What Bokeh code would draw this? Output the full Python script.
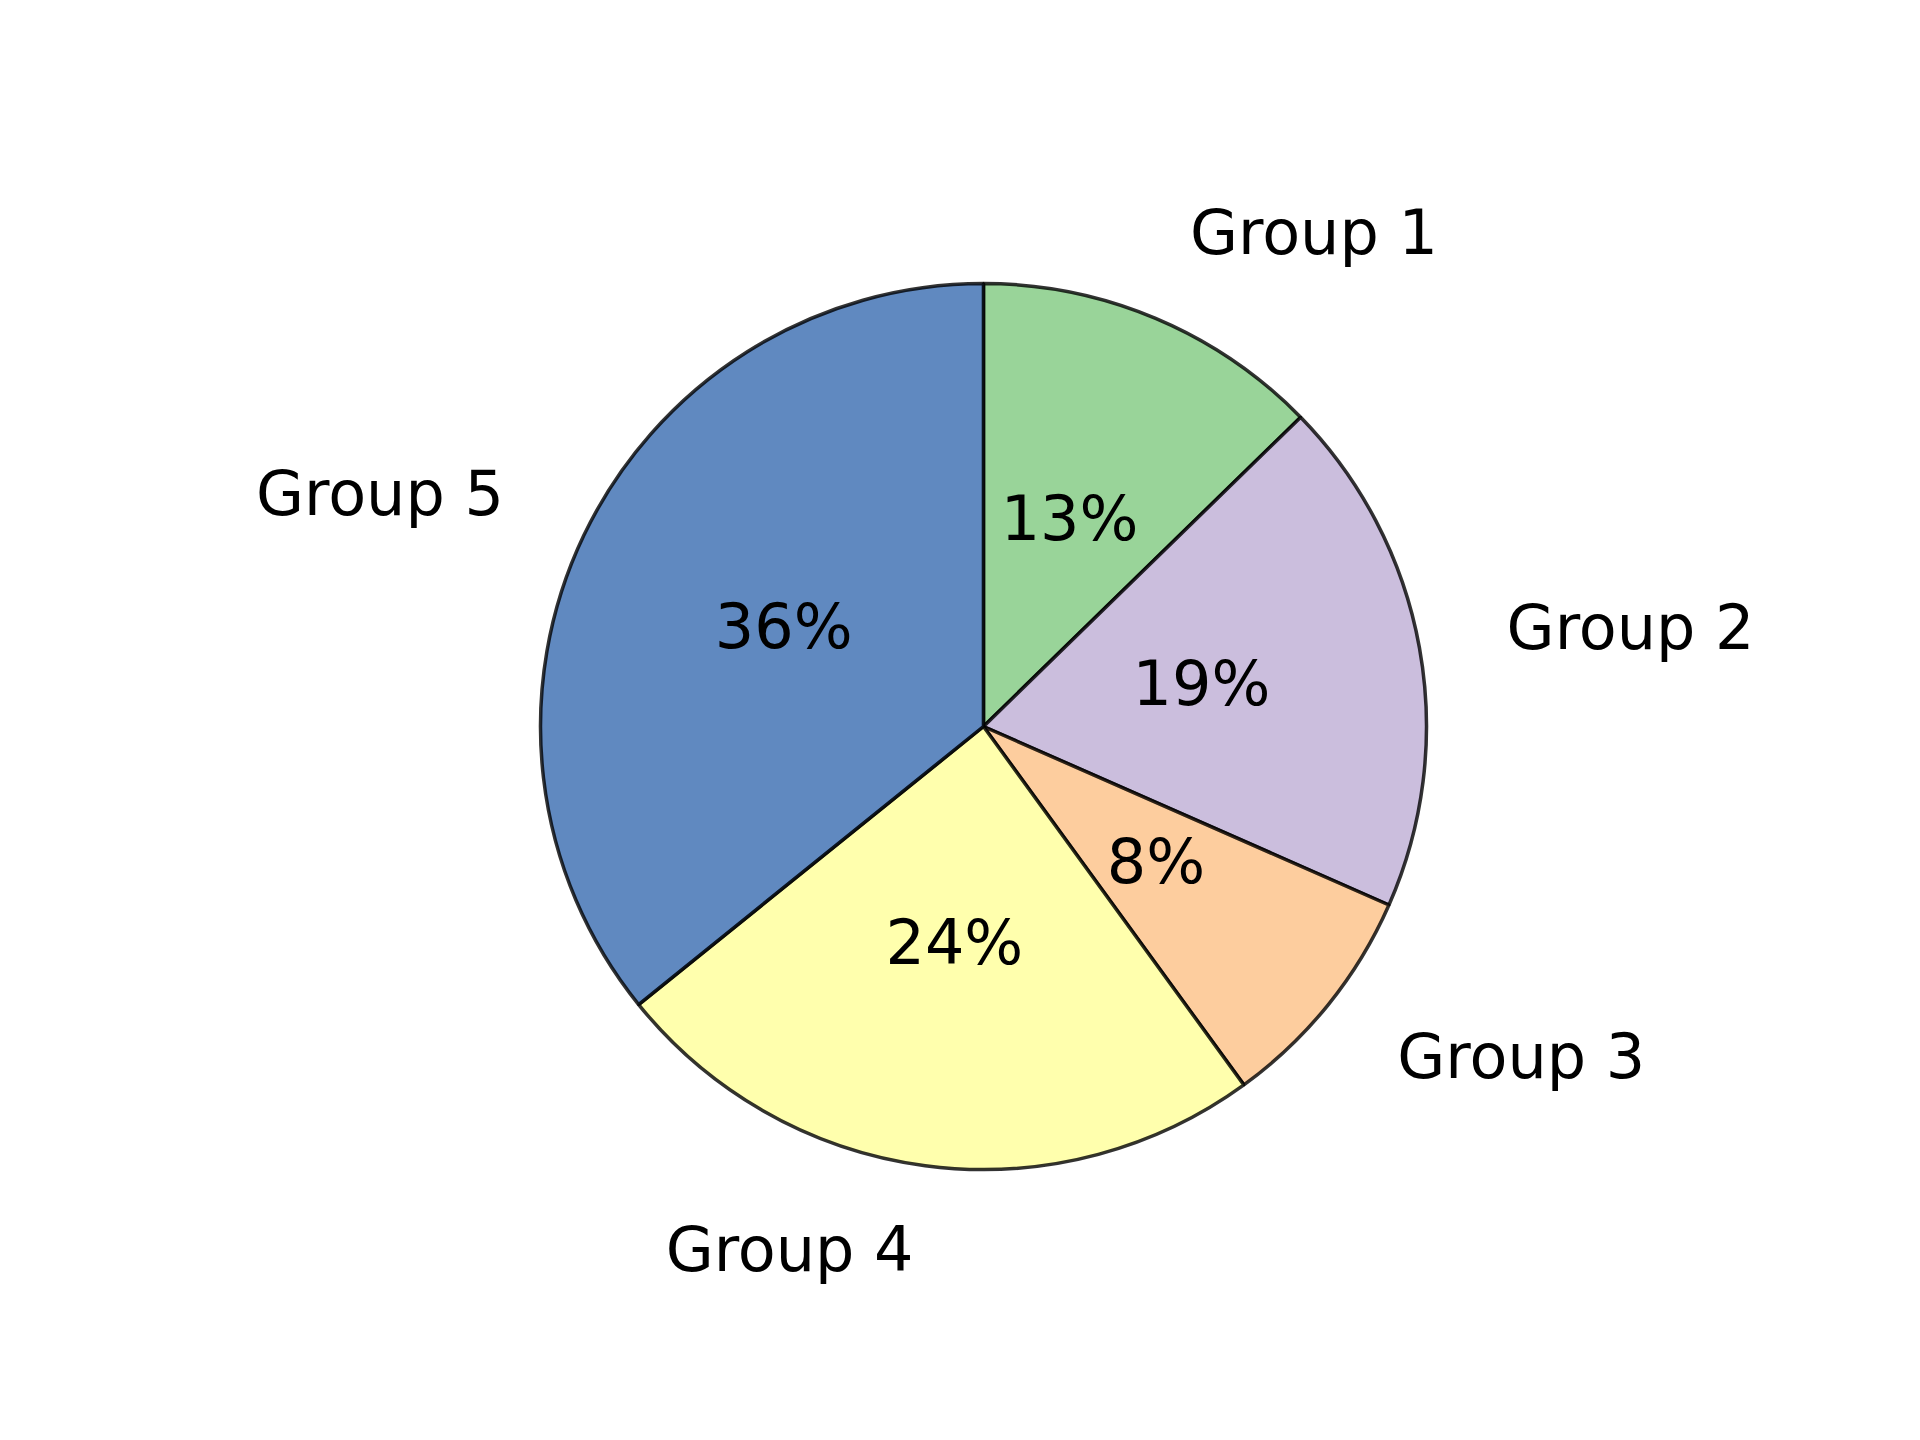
import math
from bokeh.plotting import figure
from bokeh.models import ColumnDataSource, Range1d
from bokeh.core.properties import value
from bokeh.embed import file_html
from bokeh.resources import INLINE

# ---- data ----
groups = ["Group 1", "Group 2", "Group 3", "Group 4", "Group 5"]
shares = [12.7, 18.9, 8.4, 24.2, 35.8]
colors = ["#7fc97f", "#beaed4", "#fdc086", "#ffff99", "#386cb0"]  # Accent

total = sum(shares)
starts, ends, lx, ly, lalign, px, py, pct = [], [], [], [], [], [], [], []
cum = 0.0
for s in shares:
    a0 = math.pi / 2 - 2 * math.pi * cum / total
    cum += s
    a1 = math.pi / 2 - 2 * math.pi * cum / total
    starts.append(a0)
    ends.append(a1)
    mid = (a0 + a1) / 2
    lx.append(1.2 * math.cos(mid))
    ly.append(1.2 * math.sin(mid))
    lalign.append("left" if math.cos(mid) > 0 else "right")
    px.append(0.5 * math.cos(mid))
    py.append(0.5 * math.sin(mid))
    pct.append(f"{s / total * 100:.0f}%")

src = ColumnDataSource(dict(start=starts, end=ends, color=colors))
lab = ColumnDataSource(dict(x=lx, y=ly, text=groups, align=lalign))
pcs = ColumnDataSource(dict(x=px, y=py, text=pct))

W, H = 1904, 1424
R = 443.0          # pixels per unit (pie radius)
cx, cy = 983.0, 726.0  # pie centre in figure pixels
off = 0
p = figure(width=W, height=H, output_backend="svg", toolbar_location=None,
           x_axis_type=None, y_axis_type=None, min_border=0,
           x_range=Range1d((off - cx) / R, (off + W - cx) / R),
           y_range=Range1d((cy - off - H) / R, (cy - off) / R))
p.outline_line_color = None
p.grid.visible = False
p.background_fill_color = "white"
p.border_fill_color = "white"

p.wedge(x=0, y=0, radius=1.0, start_angle="start", end_angle="end",
        direction="clock", fill_color="color", fill_alpha=0.8,
        line_color="black", line_alpha=0.8, line_width=3.5, source=src)

p.text(x="x", y="y", text="text", text_align="align", text_baseline="middle",
       text_font=value("DejaVu Sans"), text_font_size="62px", y_offset=-4,
       text_color="black", source=lab)
p.text(x="x", y="y", text="text", text_align="center", text_baseline="middle",
       text_font=value("DejaVu Sans"), text_font_size="62px", y_offset=-4,
       text_color="black", source=pcs)

open("out.html", "w").write(file_html(p, INLINE))
